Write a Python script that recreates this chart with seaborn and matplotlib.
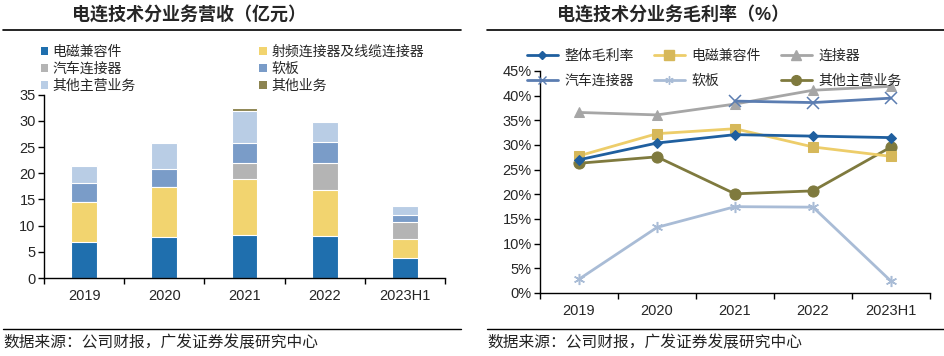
import numpy as np
import pandas as pd
import matplotlib
matplotlib.use("Agg")
import matplotlib.pyplot as plt
import seaborn as sns
from matplotlib.lines import Line2D
from matplotlib.patches import Patch

sns.set_theme(style="white")
plt.rcParams['font.family'] = ['Liberation Sans', 'Noto Sans CJK SC']

# ---------------- data ----------------
years = ["2019", "2020", "2021", "2022", "2023H1"]

# revenue (亿元), stacked bottom -> top
rev_names = ["电磁兼容件", "射频连接器及线缆连接器", "汽车连接器", "软板", "其他主营业务", "其他业务"]
rev_emc = [6.9, 7.8, 8.2, 8.0, 3.8]
rev_rf = [7.7, 9.65, 10.7, 8.8, 3.6]
rev_auto = [0.0, 0.0, 3.1, 5.2, 3.2]
rev_fpc = [3.6, 3.4, 3.8, 4.0, 1.4]
rev_othmain = [3.2, 4.9, 6.0, 3.7, 1.75]
rev_oth = [0.2, 0.25, 0.6, 0.0, 0.0]
rev_colors = ["#1F6FAE", "#F2D46F", "#B4B4B4", "#7A9CC8", "#B9CDE5", "#8C8450"]

# gross margin (%)
gm_names = ["整体毛利率", "电磁兼容件", "连接器", "汽车连接器", "软板", "其他主营业务"]
gm_total = [27.0, 30.4, 32.1, 31.8, 31.5]
gm_emc = [27.8, 32.3, 33.3, 29.6, 27.7]
gm_conn = [36.6, 36.1, 38.3, 41.1, 41.9]
gm_auto = [np.nan, np.nan, 38.9, 38.6, 39.5]
gm_fpc = [2.8, 13.3, 17.5, 17.4, 2.4]
gm_othmain = [26.3, 27.6, 20.1, 20.7, 29.6]
gm_colors = ["#1F5F9F", "#EDCD6A", "#A6A6A6", "#5B7DB1", "#A9BCD6", "#7F7A3E"]
gm_mcolors = ["#1F5F9F", "#D6B85A", "#A6A6A6", "#5B7DB1", "#A9BCD6", "#7F7A3E"]
ASTER = (6, 2, 0)
gm_markers = ["D", "s", "^", "x", ASTER, "o"]
gm_msizes = [5.5, 7.5, 7.5, 8, 8, 8]

# ---------------- figure ----------------
fig = plt.figure(figsize=(9.45, 3.56), dpi=100)
W, H = 945, 356

def fx(px):
    return px / W

def fy(py):
    return 1 - py / H

# titles
fig.text(fx(189), fy(16), "电连技术分业务营收（亿元）", ha="center", va="center",
         fontsize=13, fontweight="bold")
fig.text(fx(673), fy(16), "电连技术分业务毛利率（%）", ha="center", va="center",
         fontsize=13, fontweight="bold")
fig.add_artist(Line2D([fx(3), fx(461)], [fy(30), fy(30)], color="black", lw=1.2))
fig.add_artist(Line2D([fx(487), fx(945)], [fy(30), fy(30)], color="black", lw=1.2))
fig.add_artist(Line2D([fx(3), fx(461)], [fy(329), fy(329)], color="black", lw=1.0))
fig.add_artist(Line2D([fx(487), fx(945)], [fy(329), fy(329)], color="black", lw=1.0))
fig.text(fx(3), fy(343), "数据来源：公司财报，广发证券发展研究中心", ha="left", va="center",
         fontsize=11.3, color="#222222")
fig.text(fx(487), fy(343), "数据来源：公司财报，广发证券发展研究中心", ha="left", va="center",
         fontsize=11.3, color="#222222")

# ---------------- left: stacked bars ----------------
ax1 = fig.add_axes([fx(44), fy(278), fx(445) - fx(44), fy(94.7) - fy(278)])
layers = np.array([rev_emc, rev_rf, rev_auto, rev_fpc, rev_othmain, rev_oth])
cum = np.cumsum(layers, axis=0)
for i in range(len(rev_names) - 1, -1, -1):
    df = pd.DataFrame({"year": years, "val": cum[i]})
    sns.barplot(data=df, x="year", y="val", color=rev_colors[i], width=0.32,
                edgecolor="white", linewidth=0.8, saturation=1, ax=ax1)
ax1.set_xlim(-0.5, 4.5)
ax1.set_ylim(0, 35)
ax1.set_yticks(np.arange(0, 36, 5))
ax1.set_xlabel("")
ax1.set_ylabel("")
ax1.set_xticks(np.arange(-0.5, 4.6, 1.0), minor=False)
ax1.set_xticklabels([])
ax1.set_xticks(np.arange(5), minor=True)
ax1.set_xticklabels(years, minor=True)
ax1.tick_params(axis="x", which="major", direction="out", length=4, width=1, color="black", bottom=True)
ax1.tick_params(axis="x", which="minor", length=0, labelsize=10.5, pad=8)
ax1.tick_params(axis="y", direction="out", length=4, width=1, color="black", left=True, labelsize=10.5, pad=2)
for s in ["top", "right"]:
    ax1.spines[s].set_visible(False)
for s in ["left", "bottom"]:
    ax1.spines[s].set_color("black")
    ax1.spines[s].set_linewidth(1)

order1 = [0, 2, 4, 1, 3, 5]
handles1 = [Patch(facecolor=rev_colors[i], edgecolor="none") for i in order1]
labels1 = [rev_names[i] for i in order1]
leg1 = fig.legend(handles1, labels1, ncol=2, loc="upper left",
                  bbox_to_anchor=(fx(38), fy(42)), frameon=False, fontsize=10,
                  handlelength=0.55, handleheight=0.55, handletextpad=0.3,
                  columnspacing=8.9, labelspacing=0.22, borderaxespad=0, borderpad=0.2)

# ---------------- right: lines ----------------
ax2 = fig.add_axes([fx(540), fy(293), fx(930) - fx(540), fy(71) - fy(293)])
xpos = np.arange(len(years))
series = [gm_total, gm_emc, gm_conn, gm_auto, gm_fpc, gm_othmain]
draw_order = [4, 2, 3, 5, 1, 0]
for i in draw_order:
    df = pd.DataFrame({"x": xpos, "y": np.array(series[i]) / 100.0}).dropna()
    mk = gm_markers[i]
    if mk == "x" or mk == ASTER:
        kw = dict(markeredgecolor=gm_mcolors[i], markeredgewidth=1.1)
    else:
        kw = dict(markeredgecolor=gm_mcolors[i], markerfacecolor=gm_mcolors[i])
    sns.lineplot(data=df, x="x", y="y", color=gm_colors[i], linewidth=2.0,
                 marker=mk, markersize=gm_msizes[i], ax=ax2, **kw)
ax2.set_xlim(-0.5, 4.5)
ax2.set_ylim(0, 0.45)
ax2.set_yticks(np.arange(0, 0.451, 0.05))
ax2.set_yticklabels([f"{int(round(v*100))}%" for v in np.arange(0, 0.451, 0.05)])
ax2.set_xlabel("")
ax2.set_ylabel("")
ax2.set_xticks(np.arange(-0.5, 4.6, 1.0), minor=False)
ax2.set_xticklabels([])
ax2.set_xticks(xpos, minor=True)
ax2.set_xticklabels(years, minor=True)
ax2.tick_params(axis="x", which="major", direction="out", length=4, width=1, color="black", bottom=True)
ax2.tick_params(axis="x", which="minor", length=0, labelsize=10.5, pad=8)
ax2.tick_params(axis="y", direction="out", length=4, width=1, color="black", left=True, labelsize=10.5, pad=2)
for s in ["top", "right"]:
    ax2.spines[s].set_visible(False)
for s in ["left", "bottom"]:
    ax2.spines[s].set_color("black")
    ax2.spines[s].set_linewidth(1)

order2 = [0, 3, 1, 4, 2, 5]
handles2 = []
for i in order2:
    mk = gm_markers[i]
    if mk == "x" or mk == ASTER:
        h = Line2D([], [], color=gm_colors[i], lw=2.0, marker=mk, markersize=6,
                   markeredgecolor=gm_mcolors[i], markeredgewidth=1.0)
    else:
        h = Line2D([], [], color=gm_colors[i], lw=2.0, marker=mk, markersize=gm_msizes[i] - 1,
                   markeredgecolor=gm_mcolors[i], markerfacecolor=gm_mcolors[i])
    handles2.append(h)
labels2 = [gm_names[i] for i in order2]
leg2 = fig.legend(handles2, labels2, ncol=3, loc="upper left",
                  bbox_to_anchor=(fx(527), fy(49)), frameon=False, fontsize=10,
                  handlelength=2.2, handletextpad=0.5, columnspacing=1.45,
                  labelspacing=0.8, borderaxespad=0, borderpad=0)

fig.savefig("out.png", dpi=100)
